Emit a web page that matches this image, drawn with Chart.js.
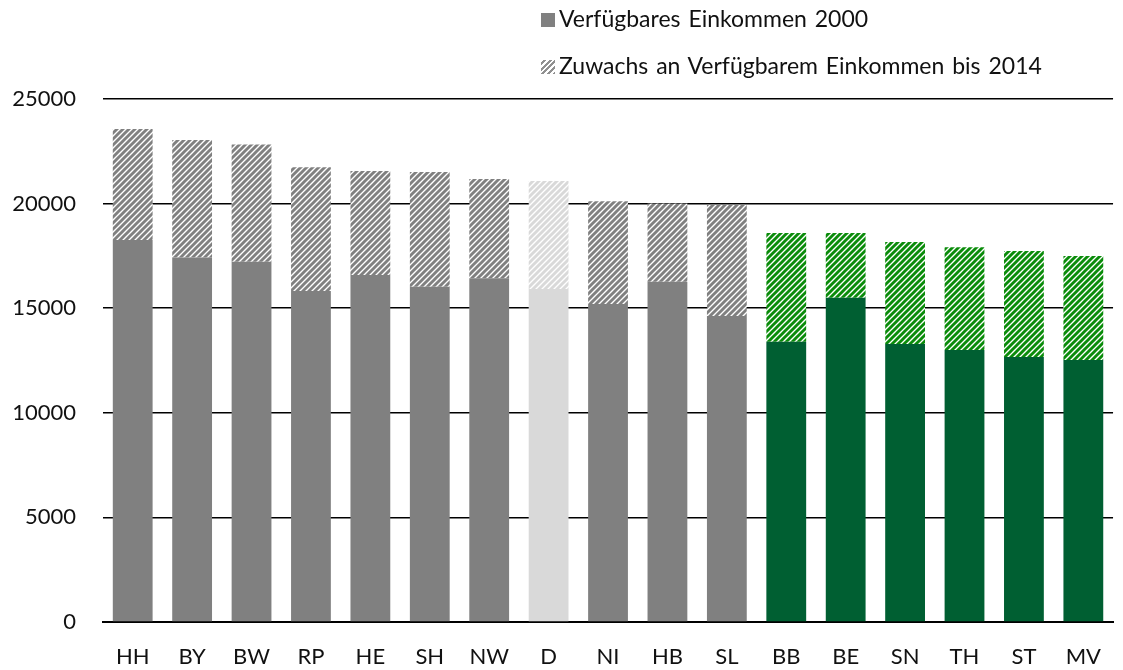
<!DOCTYPE html>
<html>
<head>
<meta charset="utf-8">
<script src="https://cdn.jsdelivr.net/npm/chart.js@4"></script>
<style>
  body { margin: 0; background: #fff; }
  #wrap { position: relative; width: 1123px; height: 670px; }
  #legend { position: absolute; left: 541px; top: 4px; font-family: Lato, "Noto Sans", sans-serif; font-size: 23px; word-spacing: 2px; color: #111; }
  .item { height: 47px; display: flex; align-items: flex-start; }
  .box { width: 14px; height: 14px; margin: 9px 4px 0 0; flex: none; }
</style>
</head>
<body>
<div id="wrap">
  <canvas id="chart" width="1123" height="670"></canvas>
  <div id="legend">
    <div class="item"><span class="box" style="background:#808080"></span>Verfügbares Einkommen 2000</div>
    <div class="item"><span class="box" id="hatchBox"></span>Zuwachs an Verfügbarem Einkommen bis 2014</div>
  </div>
</div>
<script>
// Bundesländer, sortiert nach Einkommen 2014
const labels = ['HH', 'BY', 'BW', 'RP', 'HE', 'SH', 'NW', 'D', 'NI', 'HB', 'SL', 'BB', 'BE', 'SN', 'TH', 'ST', 'MV'];
const income2000 = [18260, 17420, 17220, 15820, 16590, 16030, 16430, 15920, 15200, 16270, 14630, 13400, 15500, 13290, 13000, 12670, 12520];
const growthTo2014 = [5300, 5620, 5600, 5920, 4970, 5480, 4750, 5160, 4910, 3740, 5300, 5200, 3100, 4870, 4910, 5060, 4980];
// gruppe: w = West, d = Deutschland, o = Ost
const groups = ['w', 'w', 'w', 'w', 'w', 'w', 'w', 'd', 'w', 'w', 'w', 'o', 'o', 'o', 'o', 'o', 'o'];

const baseColors = { w: '#808080', d: '#d9d9d9', o: '#005f32' };
const stripeColors = { w: '#808080', d: '#d9d9d9', o: '#0a8c0a' };

function hatch(color) {
    const c = document.createElement('canvas');
    c.width = 6;
    c.height = 6;
    const g = c.getContext('2d');
    g.fillStyle = '#fff';
    g.fillRect(0, 0, 6, 6);
    g.strokeStyle = color;
    g.lineWidth = 2.9;
    g.beginPath();
    g.moveTo(-1, 7); g.lineTo(7, -1);
    g.moveTo(-4, 4); g.lineTo(4, -4);
    g.moveTo(2, 10); g.lineTo(10, 2);
    g.stroke();
    return g.createPattern(c, 'repeat');
}

const patterns = {};
for (const k in stripeColors) patterns[k] = hatch(stripeColors[k]);

document.getElementById('hatchBox').style.background =
    'repeating-linear-gradient(-45deg, #909090 0 2px, #fff 2px 4px)';

const font = { family: 'Lato, "Noto Sans", sans-serif', size: 22 };

new Chart(document.getElementById('chart'), {
    type: 'bar',
    data: {
        labels: labels,
        datasets: [{
            label: 'Verfügbares Einkommen 2000',
            data: income2000,
            backgroundColor: groups.map(g => baseColors[g])
        }, {
            label: 'Zuwachs an Verfügbarem Einkommen bis 2014',
            data: growthTo2014,
            backgroundColor: groups.map(g => patterns[g])
        }]
    },
    options: {
        responsive: false,
        animation: false,
        layout: { padding: { top: 99, right: 0, left: 0, bottom: 0 } },
        datasets: { bar: { categoryPercentage: 1, barPercentage: 0.67 } },
        plugins: { legend: { display: false }, tooltip: { enabled: false } },
        scales: {
            x: {
                stacked: true,
                grid: { display: false, drawTicks: false },
                border: { color: '#000', width: 2 },
                ticks: { color: '#111', font: font, padding: 22, maxRotation: 0 },
                afterFit: s => { s.height = 48; }
            },
            y: {
                stacked: true,
                min: 0,
                max: 25000,
                grid: { color: '#000', lineWidth: 1.5, drawTicks: false },
                border: { display: false },
                ticks: { stepSize: 5000, color: '#111', font: font, padding: 27, callback: v => String(v) },
                afterFit: s => { s.width = 103; }
            }
        }
    }
});
</script>
</body>
</html>
